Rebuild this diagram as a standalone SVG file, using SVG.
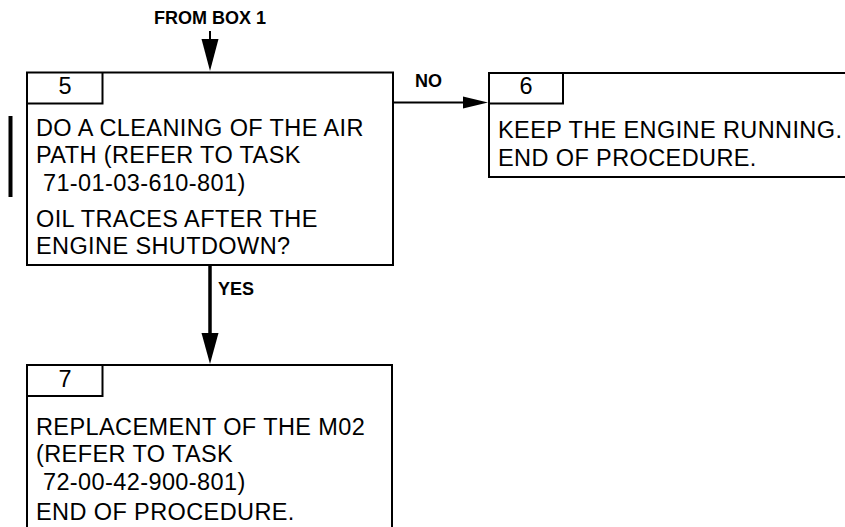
<svg xmlns="http://www.w3.org/2000/svg" width="845" height="527" viewBox="0 0 845 527">
<style>
.box{fill:#fff;stroke:#000;stroke-width:2}
.tab{fill:none;stroke:#000;stroke-width:2}
.t{font-family:"Liberation Sans",Arial,sans-serif;font-size:23.5px;letter-spacing:0.4px;fill:#000}
.n{font-family:"Liberation Sans",Arial,sans-serif;font-size:23.5px;fill:#000;text-anchor:middle}
.lbl{font-family:"Liberation Sans",Arial,sans-serif;font-size:18px;font-weight:bold;fill:#000}
.c{stroke:#000;fill:none}
</style>
<rect width="845" height="527" fill="#fff"/>
<g id="connectors">
  <line class="c" x1="210" y1="31" x2="210" y2="42" stroke-width="2"/>
  <polygon points="201.5,39 218.5,39 210,71"/>
  <text class="lbl" x="210" y="24" text-anchor="middle">FROM BOX 1</text>
  <line class="c" x1="393" y1="102.5" x2="466" y2="102.5" stroke-width="2"/>
  <polygon points="463,96.5 488,102.5 463,108.5"/>
  <text class="lbl" x="415" y="87">NO</text>
  <line class="c" x1="210" y1="266" x2="210" y2="336" stroke-width="3.5"/>
  <polygon points="201.5,333 218.5,333 210,364"/>
  <text class="lbl" x="218" y="295">YES</text>
</g>
<g id="box5">
  <rect class="box" x="27" y="72.5" width="366" height="192.5"/>
  <path class="tab" d="M27,103.5 H102.5 V72.5"/>
  <text class="n" x="65" y="94">5</text>
  <text class="t" x="36" y="136">DO A CLEANING OF THE AIR</text>
  <text class="t" x="36" y="163">PATH (REFER TO TASK</text>
  <text class="t" x="36" y="191" xml:space="preserve"> 71-01-03-610-801)</text>
  <text class="t" x="36" y="226.5">OIL TRACES AFTER THE</text>
  <text class="t" x="36" y="254">ENGINE SHUTDOWN?</text>
</g>
<g id="changebar">
  <rect x="8.5" y="116" width="4" height="81" fill="#000"/>
</g>
<g id="box6">
  <rect class="box" x="489" y="73" width="380" height="104"/>
  <path class="tab" d="M489,103.5 H563 V73"/>
  <text class="n" x="526" y="94">6</text>
  <text class="t" x="498" y="138">KEEP THE ENGINE RUNNING.</text>
  <text class="t" x="498" y="166">END OF PROCEDURE.</text>
</g>
<g id="box7">
  <rect class="box" x="27" y="365" width="365" height="190"/>
  <path class="tab" d="M27,396 H102.5 V365"/>
  <text class="n" x="65" y="387">7</text>
  <text class="t" x="36" y="435">REPLACEMENT OF THE M02</text>
  <text class="t" x="36" y="462">(REFER TO TASK</text>
  <text class="t" x="36" y="490" xml:space="preserve"> 72-00-42-900-801)</text>
  <text class="t" x="36" y="520">END OF PROCEDURE.</text>
</g>
</svg>
